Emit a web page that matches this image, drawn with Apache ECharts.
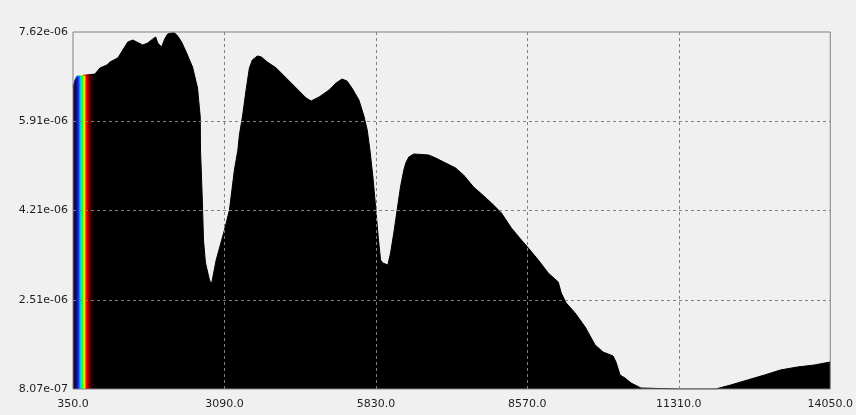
<!DOCTYPE html>
<html>
<head>
<meta charset="utf-8">
<script src="https://cdn.jsdelivr.net/npm/echarts@6/dist/echarts.min.js"></script>
<style>
html,body{margin:0;padding:0;background:#f0f0f0;}
#chart{width:856px;height:415px;}
</style>
</head>
<body>
<div id="chart"></div>
<script>
// Wavelength (nm) and spectral irradiance values
var wavelengths = [350,386,422,458,747,837,963,1017,1161,1251,1341,1432,1504,1612,1702,1792,1846,1882,1954,2008,2062,2135,2189,2243,2315,2405,2513,2603,2652,2657,2688,2711,2747,2819,2856,2940,3090,3180,3270,3333,3360,3420,3481,3541,3595,3685,3757,3865,4027,4208,4388,4568,4658,4802,4983,5109,5217,5307,5397,5523,5613,5673,5722,5776,5825,5872,5915,5956,6046,6095,6154,6214,6275,6335,6371,6425,6515,6785,6912,7092,7272,7416,7596,7722,7921,8101,8281,8462,8588,8768,8948,9129,9183,9273,9435,9616,9796,9940,10121,10174,10247,10337,10445,10625,10661,11300,11977,12247,12554,12860,13149,13455,13761,14050];
var irradiance = [6.570e-6,6.704e-6,6.780e-6,6.818e-6,6.818e-6,6.933e-6,6.990e-6,7.047e-6,7.124e-6,7.276e-6,7.429e-6,7.467e-6,7.429e-6,7.372e-6,7.410e-6,7.486e-6,7.525e-6,7.410e-6,7.334e-6,7.486e-6,7.582e-6,7.601e-6,7.601e-6,7.544e-6,7.429e-6,7.219e-6,6.952e-6,6.551e-6,5.998e-6,5.368e-6,4.471e-6,3.650e-6,3.212e-6,2.887e-6,2.811e-6,3.269e-6,3.841e-6,4.223e-6,4.986e-6,5.368e-6,5.654e-6,6.036e-6,6.513e-6,6.933e-6,7.086e-6,7.162e-6,7.143e-6,7.047e-6,6.933e-6,6.742e-6,6.551e-6,6.360e-6,6.303e-6,6.380e-6,6.513e-6,6.647e-6,6.723e-6,6.685e-6,6.551e-6,6.322e-6,6.017e-6,5.750e-6,5.368e-6,4.853e-6,4.280e-6,3.708e-6,3.269e-6,3.212e-6,3.173e-6,3.402e-6,3.784e-6,4.223e-6,4.662e-6,4.986e-6,5.120e-6,5.234e-6,5.292e-6,5.273e-6,5.215e-6,5.120e-6,5.025e-6,4.891e-6,4.662e-6,4.547e-6,4.357e-6,4.166e-6,3.880e-6,3.650e-6,3.498e-6,3.269e-6,3.021e-6,2.849e-6,2.639e-6,2.448e-6,2.257e-6,1.990e-6,1.647e-6,1.513e-6,1.437e-6,1.322e-6,1.074e-6,1.017e-6,0.922e-6,0.826e-6,0.807e-6,0.807e-6,0.807e-6,0.883e-6,0.979e-6,1.074e-6,1.170e-6,1.227e-6,1.265e-6,1.322e-6];

// Axis ranges and tick labels
var xMin = 350, xMax = 14050;
var yMin = 0.807e-6, yMax = 7.62e-6;
var xTickLabels = ['350.0','3090.0','5830.0','8570.0','11310.0','14050.0'];
var yTickLabels = ['8.07e-07','2.51e-06','4.21e-06','5.91e-06','7.62e-06'];

// Visible spectrum colouring (wavelength nm, colour)
var spectrumWl = [350,410,440,460,480,500,520,545,560,575,590,620,660,700,730];
var spectrumColors = ['#0a0028','#1a0870','#1020e0','#0060ff','#00c0ff','#00ff80','#20ff00','#e0ff00','#ffd000','#ff7000','#ff0000','#a00000','#500000','#1a0000','#000000'];

var seriesData = wavelengths.map(function(w, i){ return [w, irradiance[i]]; });
var stops = spectrumWl.map(function(w, i){
  return {offset: (w - xMin) / (xMax - xMin), color: spectrumColors[i]};
});
stops.push({offset: 1, color: '#000000'});
function makeGrad(){ return new echarts.graphic.LinearGradient(0, 0, 1, 0, stops); }

var labelFont = {fontFamily: 'DejaVu Sans', fontSize: 11, color: '#1e1e1e'};
var splitStyle = {show: true, showMinLine: false, showMaxLine: false, lineStyle: {color: '#808080', type: [3, 3], width: 1}};

var chart = echarts.init(document.getElementById('chart'), null, {renderer: 'canvas'});
chart.setOption({
  animation: false,
  backgroundColor: '#f0f0f0',
  grid: {left: 73, right: 23, top: 32, bottom: 26, show: true, z: 10, borderColor: '#808080', borderWidth: 1, backgroundColor: 'transparent', containLabel: false},
  xAxis: [
    {type: 'value', min: xMin, max: xMax, show: false},
    {type: 'value', min: 0, max: xTickLabels.length - 1, interval: 1, position: 'bottom', z: 5,
     axisLine: {show: false}, axisTick: {show: false}, splitLine: splitStyle,
     axisLabel: Object.assign({margin: 10, formatter: function(v){ return xTickLabels[Math.round(v)]; }}, labelFont)}
  ],
  yAxis: [
    {type: 'value', min: yMin, max: yMax, show: false},
    {type: 'value', min: 0, max: yTickLabels.length - 1, interval: 1, position: 'left', z: 5,
     axisLine: {show: false}, axisTick: {show: false}, splitLine: splitStyle,
     axisLabel: Object.assign({margin: 5, formatter: function(v){ return yTickLabels[Math.round(v)]; }}, labelFont)}
  ],
  series: [{
    type: 'line',
    xAxisIndex: 0, yAxisIndex: 0,
    data: seriesData,
    showSymbol: false,
    symbol: 'none',
    z: 2,
    lineStyle: {width: 1, color: makeGrad()},
    areaStyle: {color: makeGrad(), opacity: 1},
    silent: true
  }]
});
</script>
</body>
</html>
